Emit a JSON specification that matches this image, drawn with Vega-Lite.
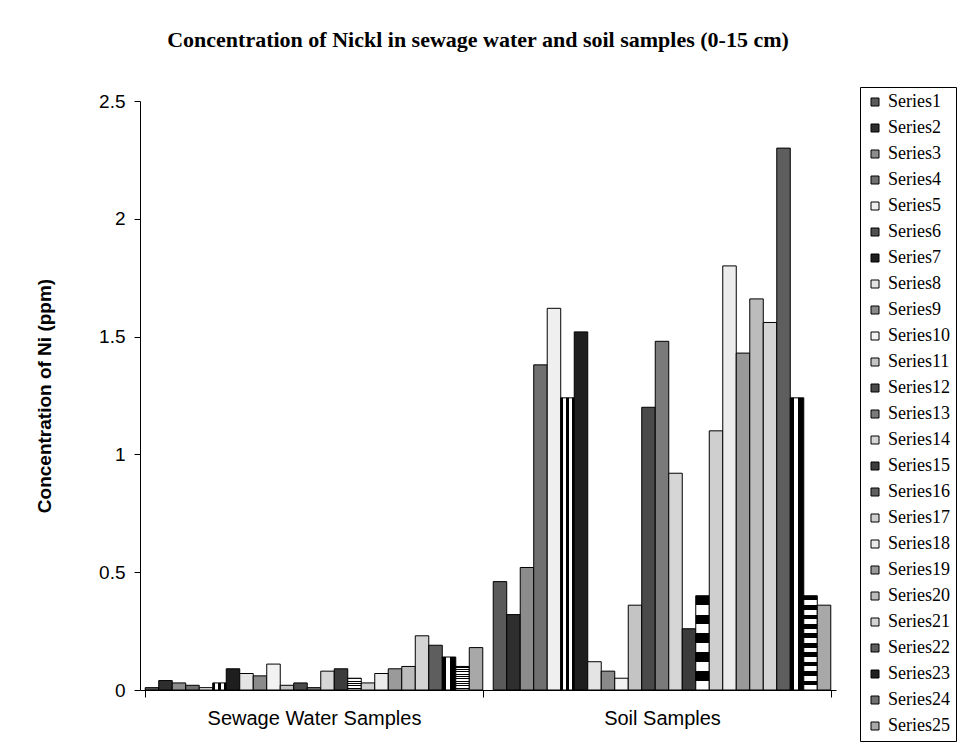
{
  "$schema": "https://vega.github.io/schema/vega-lite/v6.json",
  "autosize": "none",
  "padding": {"left": 140, "top": 101, "right": 126, "bottom": 55},
  "width": 696,
  "height": 589,
  "background": "white",
  "title": {
    "text": "Concentration of Nickl in sewage water and soil samples (0-15 cm)",
    "font": "Liberation Serif",
    "fontSize": 22,
    "fontWeight": "bold",
    "color": "black",
    "anchor": "middle",
    "offset": 35,
    "dx": -10
  },
  "datasets": {
    "ni": [
      {"sample": "Sewage Water Samples", "series": "Series1", "value": 0.01},
      {"sample": "Sewage Water Samples", "series": "Series2", "value": 0.04},
      {"sample": "Sewage Water Samples", "series": "Series3", "value": 0.03},
      {"sample": "Sewage Water Samples", "series": "Series4", "value": 0.02},
      {"sample": "Sewage Water Samples", "series": "Series5", "value": 0.01},
      {"sample": "Sewage Water Samples", "series": "Series6", "value": 0.03},
      {"sample": "Sewage Water Samples", "series": "Series7", "value": 0.09},
      {"sample": "Sewage Water Samples", "series": "Series8", "value": 0.07},
      {"sample": "Sewage Water Samples", "series": "Series9", "value": 0.06},
      {"sample": "Sewage Water Samples", "series": "Series10", "value": 0.11},
      {"sample": "Sewage Water Samples", "series": "Series11", "value": 0.02},
      {"sample": "Sewage Water Samples", "series": "Series12", "value": 0.03},
      {"sample": "Sewage Water Samples", "series": "Series13", "value": 0.01},
      {"sample": "Sewage Water Samples", "series": "Series14", "value": 0.08},
      {"sample": "Sewage Water Samples", "series": "Series15", "value": 0.09},
      {"sample": "Sewage Water Samples", "series": "Series16", "value": 0.05},
      {"sample": "Sewage Water Samples", "series": "Series17", "value": 0.03},
      {"sample": "Sewage Water Samples", "series": "Series18", "value": 0.07},
      {"sample": "Sewage Water Samples", "series": "Series19", "value": 0.09},
      {"sample": "Sewage Water Samples", "series": "Series20", "value": 0.10},
      {"sample": "Sewage Water Samples", "series": "Series21", "value": 0.23},
      {"sample": "Sewage Water Samples", "series": "Series22", "value": 0.19},
      {"sample": "Sewage Water Samples", "series": "Series23", "value": 0.14},
      {"sample": "Sewage Water Samples", "series": "Series24", "value": 0.10},
      {"sample": "Sewage Water Samples", "series": "Series25", "value": 0.18},
      {"sample": "Soil Samples", "series": "Series1", "value": 0.46},
      {"sample": "Soil Samples", "series": "Series2", "value": 0.32},
      {"sample": "Soil Samples", "series": "Series3", "value": 0.52},
      {"sample": "Soil Samples", "series": "Series4", "value": 1.38},
      {"sample": "Soil Samples", "series": "Series5", "value": 1.62},
      {"sample": "Soil Samples", "series": "Series6", "value": 1.24},
      {"sample": "Soil Samples", "series": "Series7", "value": 1.52},
      {"sample": "Soil Samples", "series": "Series8", "value": 0.12},
      {"sample": "Soil Samples", "series": "Series9", "value": 0.08},
      {"sample": "Soil Samples", "series": "Series10", "value": 0.05},
      {"sample": "Soil Samples", "series": "Series11", "value": 0.36},
      {"sample": "Soil Samples", "series": "Series12", "value": 1.20},
      {"sample": "Soil Samples", "series": "Series13", "value": 1.48},
      {"sample": "Soil Samples", "series": "Series14", "value": 0.92},
      {"sample": "Soil Samples", "series": "Series15", "value": 0.26},
      {"sample": "Soil Samples", "series": "Series16", "value": 0.40},
      {"sample": "Soil Samples", "series": "Series17", "value": 1.10},
      {"sample": "Soil Samples", "series": "Series18", "value": 1.80},
      {"sample": "Soil Samples", "series": "Series19", "value": 1.43},
      {"sample": "Soil Samples", "series": "Series20", "value": 1.66},
      {"sample": "Soil Samples", "series": "Series21", "value": 1.56},
      {"sample": "Soil Samples", "series": "Series22", "value": 2.30},
      {"sample": "Soil Samples", "series": "Series23", "value": 1.24},
      {"sample": "Soil Samples", "series": "Series24", "value": 0.40},
      {"sample": "Soil Samples", "series": "Series25", "value": 0.36}
    ]
  },
  "data": {"name": "ni"},
  "mark": {"type": "bar", "stroke": "black", "strokeWidth": 1, "strokeOpacity": 1, "fillOpacity": 1},
  "encoding": {
    "x": {
      "field": "sample",
      "type": "nominal",
      "sort": ["Sewage Water Samples", "Soil Samples"],
      "scale": {"paddingInner": 0.03, "paddingOuter": 0.015},
      "axis": {
        "title": null,
        "labelAngle": 0,
        "labelFont": "Liberation Sans",
        "labelFontSize": 20,
        "labelColor": "black",
        "labelPadding": 11,
        "labelLimit": 400,
        "domainColor": "black",
        "tickColor": "black",
        "tickSize": 7,
        "tickBand": "extent"
      }
    },
    "xOffset": {
      "field": "series",
      "type": "nominal",
      "scale": {
        "domain": ["Series1","Series2","Series3","Series4","Series5","Series6","Series7","Series8","Series9","Series10","Series11","Series12","Series13","Series14","Series15","Series16","Series17","Series18","Series19","Series20","Series21","Series22","Series23","Series24","Series25"],
        "paddingInner": 0,
        "paddingOuter": 0
      }
    },
    "y": {
      "field": "value",
      "type": "quantitative",
      "scale": {"domain": [0, 2.5], "nice": false},
      "axis": {
        "title": "Concentration of Ni (ppm)",
        "titleFont": "Liberation Sans Narrow, Liberation Sans",
        "titleFontSize": 19,
        "titleFontWeight": "bold",
        "titleColor": "black",
        "titlePadding": 44,
        "values": [0, 0.5, 1, 1.5, 2, 2.5],
        "format": "~g",
        "labelFont": "Liberation Sans",
        "labelFontSize": 19,
        "labelColor": "black",
        "labelPadding": 9,
        "grid": false,
        "domainColor": "black",
        "tickColor": "black",
        "tickSize": 6
      }
    },
    "fill": {
      "condition": [
        {"test": "datum.series === 'Series6'", "value": {"gradient": "linear", "x1": 0, "y1": 0, "x2": 1, "y2": 0, "stops": [
            {"offset": 0, "color": "black"}, {"offset": 0.2, "color": "black"},
            {"offset": 0.2, "color": "white"}, {"offset": 0.4, "color": "white"},
            {"offset": 0.4, "color": "black"}, {"offset": 0.6, "color": "black"},
            {"offset": 0.6, "color": "white"}, {"offset": 0.8, "color": "white"},
            {"offset": 0.8, "color": "black"}, {"offset": 1, "color": "black"}]}},
        {"test": "datum.series === 'Series16'", "value": {"gradient": "linear", "x1": 0, "y1": 0, "x2": 0, "y2": 1, "stops": [
            {"offset": 0, "color": "black"}, {"offset": 0.1, "color": "black"},
            {"offset": 0.1, "color": "white"}, {"offset": 0.2, "color": "white"},
            {"offset": 0.2, "color": "black"}, {"offset": 0.3, "color": "black"},
            {"offset": 0.3, "color": "white"}, {"offset": 0.4, "color": "white"},
            {"offset": 0.4, "color": "black"}, {"offset": 0.5, "color": "black"},
            {"offset": 0.5, "color": "white"}, {"offset": 0.6, "color": "white"},
            {"offset": 0.6, "color": "black"}, {"offset": 0.7, "color": "black"},
            {"offset": 0.7, "color": "white"}, {"offset": 0.8, "color": "white"},
            {"offset": 0.8, "color": "black"}, {"offset": 0.9, "color": "black"},
            {"offset": 0.9, "color": "white"}, {"offset": 1, "color": "white"}]}},
        {"test": "datum.series === 'Series23'", "value": {"gradient": "linear", "x1": 0, "y1": 0, "x2": 1, "y2": 0, "stops": [
            {"offset": 0, "color": "black"}, {"offset": 0.25, "color": "black"},
            {"offset": 0.25, "color": "white"}, {"offset": 0.6, "color": "white"},
            {"offset": 0.6, "color": "black"}, {"offset": 1, "color": "black"}]}},
        {"test": "datum.series === 'Series24'", "value": {"gradient": "linear", "x1": 0, "y1": 0, "x2": 0, "y2": 1, "stops": [
            {"offset": 0, "color": "black"}, {"offset": 0.05, "color": "black"},
            {"offset": 0.05, "color": "white"}, {"offset": 0.1, "color": "white"},
            {"offset": 0.1, "color": "black"}, {"offset": 0.15, "color": "black"},
            {"offset": 0.15, "color": "white"}, {"offset": 0.2, "color": "white"},
            {"offset": 0.2, "color": "black"}, {"offset": 0.25, "color": "black"},
            {"offset": 0.25, "color": "white"}, {"offset": 0.3, "color": "white"},
            {"offset": 0.3, "color": "black"}, {"offset": 0.35, "color": "black"},
            {"offset": 0.35, "color": "white"}, {"offset": 0.4, "color": "white"},
            {"offset": 0.4, "color": "black"}, {"offset": 0.45, "color": "black"},
            {"offset": 0.45, "color": "white"}, {"offset": 0.5, "color": "white"},
            {"offset": 0.5, "color": "black"}, {"offset": 0.55, "color": "black"},
            {"offset": 0.55, "color": "white"}, {"offset": 0.6, "color": "white"},
            {"offset": 0.6, "color": "black"}, {"offset": 0.65, "color": "black"},
            {"offset": 0.65, "color": "white"}, {"offset": 0.7, "color": "white"},
            {"offset": 0.7, "color": "black"}, {"offset": 0.75, "color": "black"},
            {"offset": 0.75, "color": "white"}, {"offset": 0.8, "color": "white"},
            {"offset": 0.8, "color": "black"}, {"offset": 0.85, "color": "black"},
            {"offset": 0.85, "color": "white"}, {"offset": 0.9, "color": "white"},
            {"offset": 0.9, "color": "black"}, {"offset": 0.95, "color": "black"},
            {"offset": 0.95, "color": "white"}, {"offset": 1, "color": "white"}]}}
      ],
      "field": "series",
      "type": "nominal",
      "scale": {
        "domain": ["Series1","Series2","Series3","Series4","Series5","Series6","Series7","Series8","Series9","Series10","Series11","Series12","Series13","Series14","Series15","Series16","Series17","Series18","Series19","Series20","Series21","Series22","Series23","Series24","Series25"],
        "range": ["#5a5a5a","#2e2e2e","#8c8c8c","#707070","#efefef","#505050","#1e1e1e","#e4e4e4","#8a8a8a","#f2f2f2","#c4c4c4","#4a4a4a","#7a7a7a","#d6d6d6","#3c3c3c","#606060","#cfcfcf","#ececec","#9a9a9a","#bcbcbc","#d4d4d4","#5e5e5e","#202020","#707070","#a8a8a8"]
      },
      "legend": {
        "title": null,
        "orient": "none",
        "legendX": 720,
        "legendY": -14,
        "strokeColor": "black",
        "fillColor": "white",
        "padding": 6,
        "symbolType": "square",
        "symbolSize": 64,
        "symbolStrokeColor": "black",
        "symbolStrokeWidth": 1,
        "symbolOpacity": 1,
        "labelFont": "Liberation Serif",
        "labelFontSize": 18,
        "labelColor": "black",
        "labelOffset": 4,
        "labelLimit": 200,
        "rowPadding": 8
      }
    }
  },
  "config": {
    "view": {"stroke": null},
    "axis": {"domainWidth": 1, "tickWidth": 1}
  }
}
